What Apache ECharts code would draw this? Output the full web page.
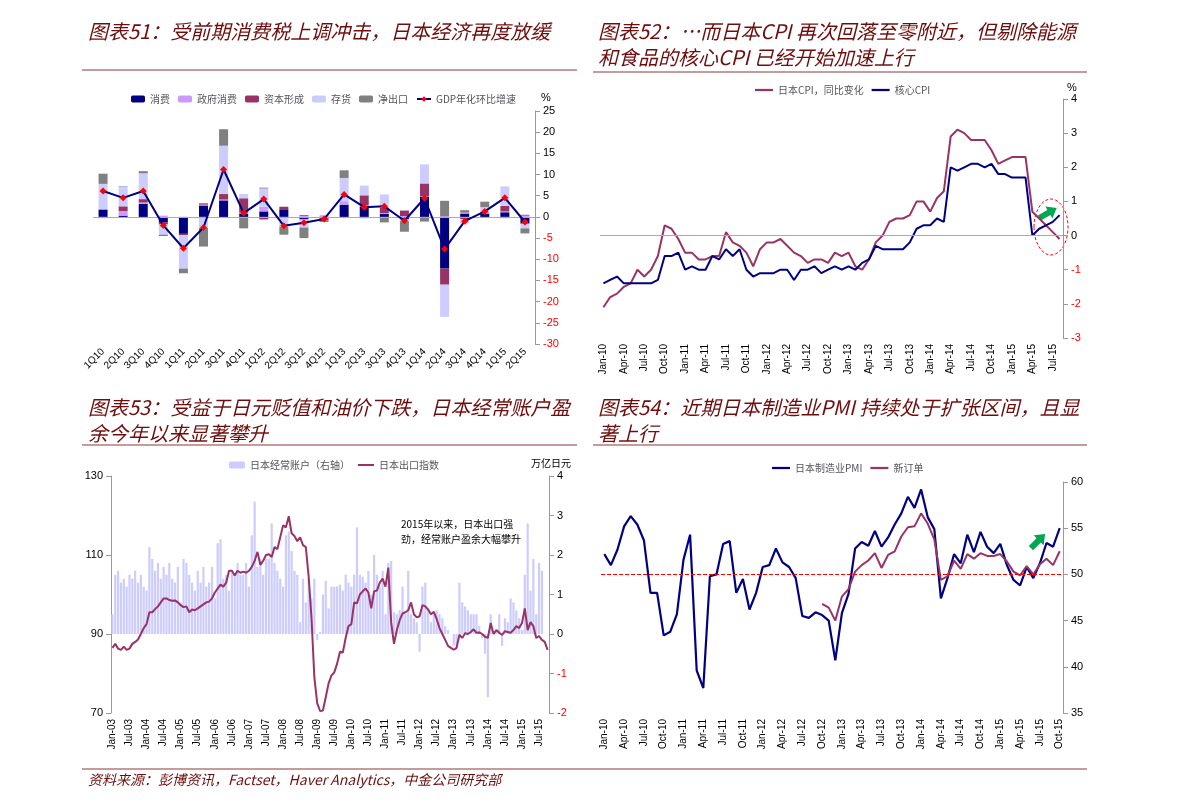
<!DOCTYPE html>
<html lang="zh">
<head>
<meta charset="UTF-8">
<title>日本经济</title>
<script src="https://cdn.jsdelivr.net/npm/echarts@6/dist/echarts.min.js"></script>
<style>body{margin:0;background:#fff}</style>
</head>
<body>
<div id="main" style="width:1191px;height:810px"></div>
<script>
// ---- 图表51 GDP 分项 ----
var quarters = ['1Q10','2Q10','3Q10','4Q10','1Q11','2Q11','3Q11','4Q11','1Q12','2Q12','3Q12','4Q12','1Q13','2Q13','3Q13','4Q13','1Q14','2Q14','3Q14','4Q14','1Q15','2Q15'];
var consume = [1.7,0.3,3.1,-1.2,-4.0,2.7,3.9,0.8,1.3,1.8,-0.6,-0.3,2.9,2.5,0.7,-0.6,4.8,-12.2,0.8,0.8,1.1,-1.6];
var govern  = [-0.3,1.1,0.3,0.3,0,0.2,0.2,0.2,1.1,-0.3,0.2,0.4,0.8,0.2,0.2,0.2,0.1,0.1,0.2,0.2,0.2,0.3];
var capital = [0.1,1.1,0.8,-0.6,-0.3,0.3,1.3,3.4,-0.6,0.6,0.2,-0.5,-0.1,2.4,1.3,1.3,3.0,-3.8,-0.5,0.1,1.3,0.2];
var invent  = [6.0,4.7,6.1,-2.4,-7.9,-2.6,11.4,1.0,4.3,-2.0,-1.9,0.1,5.5,2.3,3.1,-0.4,4.5,-7.6,-1.0,1.2,4.6,-1.1];
var netexp  = [2.4,0.1,0.5,-0.3,-1.1,-4.4,3.9,-2.7,0.2,-1.9,-2.5,-0.4,1.8,-0.3,-1.3,-2.5,-1.1,3.7,0.6,1.3,-0.3,-1.2];
var gdp     = [6.1,4.5,6.1,-2.0,-7.4,-2.5,11.2,0.9,4.2,-2.1,-1.4,-0.5,5.3,2.3,2.5,-0.9,4.4,-7.6,-1.0,1.3,4.5,-1.2];

// ---- 图表52 CPI ----
var cpiMonths = [];
['10','11','12','13','14','15'].forEach(function (y) {
    ['Jan','Feb','Mar','Apr','May','Jun','Jul','Aug','Sep','Oct','Nov','Dec'].forEach(function (m) {
        cpiMonths.push(m + '-' + y);
    });
});
cpiMonths = cpiMonths.slice(0, 68);
var cpiHead = [-2.1,-1.8,-1.7,-1.5,-1.4,-1.0,-1.2,-1.0,-0.6,0.3,0.2,-0.1,
    -0.5,-0.5,-0.7,-0.7,-0.6,-0.6,0.1,-0.2,-0.3,-0.5,-0.9,-0.4,
    -0.2,-0.2,-0.1,-0.3,-0.5,-0.6,-0.8,-0.7,-0.7,-0.8,-0.5,-0.6,
    -0.5,-0.9,-1.0,-0.7,-0.2,0.0,0.4,0.5,0.5,0.6,1.0,1.0,
    0.7,1.1,1.3,2.9,3.1,3.0,2.8,2.8,2.8,2.5,2.1,2.2,
    2.3,2.3,2.3,0.7,0.5,0.3,0.1,-0.1];
var cpiCore = [-1.4,-1.3,-1.2,-1.4,-1.4,-1.4,-1.4,-1.4,-1.3,-0.6,-0.6,-0.5,
    -1.0,-0.9,-1.0,-1.0,-0.6,-0.7,-0.4,-0.6,-0.4,-1.0,-1.2,-1.1,
    -1.1,-1.1,-1.0,-1.0,-1.3,-1.0,-1.0,-0.9,-1.1,-1.0,-0.9,-1.0,
    -0.9,-1.0,-0.8,-0.7,-0.3,-0.4,-0.4,-0.4,-0.4,-0.2,0.2,0.3,
    0.3,0.5,0.4,2.0,1.9,2.0,2.1,2.1,2.0,2.1,1.8,1.8,
    1.7,1.7,1.7,0.0,0.2,0.3,0.4,0.6];

// ---- 图表53 经常账户与出口 ----
var caMonths = [];
['03','04','05','06','07','08','09','10','11','12','13','14','15'].forEach(function (y) {
    ['Jan','Feb','Mar','Apr','May','Jun','Jul','Aug','Sep','Oct','Nov','Dec'].forEach(function (m) {
        caMonths.push(m + '-' + y);
    });
});
caMonths = caMonths.slice(0, 154);
var currentAcct = [0.5,1.5,1.6,1.3,1.4,1.2,1.5,1.4,1.6,1.3,1.5,1.2,
    1.1,2.2,1.9,1.6,1.8,1.4,1.7,1.5,1.8,1.4,1.3,1.7,
    0.8,1.9,1.8,1.5,1.3,1.1,1.6,1.3,1.7,1.2,1.3,1.7,
    0.9,2.3,2.4,1.4,1.5,1.1,1.6,1.5,1.8,1.5,1.5,1.8,
    1.2,2.5,3.35,1.7,1.9,1.5,1.9,1.9,2.8,1.8,1.6,1.4,
    1.2,2.5,2.6,2.1,1.6,1.5,0.3,1.4,0.8,1.4,0.9,1.4,
    -0.15,0.05,1.0,1.35,0.65,1.2,1.2,1.2,1.25,1.1,1.5,1.3,
    1.2,1.5,2.7,1.5,1.45,1.3,1.6,1.0,2.0,1.5,1.2,1.6,
    0.5,1.8,1.85,0.55,0.5,0.6,1.2,0.5,1.6,0.5,0.4,0.3,
    -0.45,1.2,1.3,0.6,0.3,0.5,0.6,0.5,0.4,0.2,0.1,0.0,
    -0.3,-0.3,1.3,0.8,0.7,0.6,0.5,0.5,0.5,0.2,-0.1,-0.5,
    -1.6,0.5,0.0,0.1,0.5,-0.3,0.4,0.3,0.9,0.8,0.6,0.4,
    0.1,1.5,2.8,1.1,1.9,0.5,1.8,1.6,null,null];
var exportIdx = [86.5,87.5,86.3,86.0,86.8,86.0,86.3,87.5,88.0,88.6,90.0,91.5,
    92.5,95.5,95.5,96.3,97.0,98.0,99.0,99.0,98.6,98.4,98.5,98.0,
    97.3,96.8,97.0,95.5,96.2,96.0,96.5,97.0,97.5,98.0,98.2,99.0,
    100.5,101.5,102.5,102.0,103.0,106.0,106.0,104.8,106.0,105.5,105.8,105.5,
    106.0,107.0,108.5,110.8,107.5,108.5,110.0,110.2,109.5,112.0,111.5,114.5,
    117.5,117.0,119.8,115.5,114.8,113.5,114.5,112.5,112.0,104.5,94.0,79.0,
    72.5,70.5,70.6,74.0,77.5,79.5,80.3,82.5,85.5,85.3,89.0,92.0,
    92.5,98.0,97.8,100.0,100.8,101.5,100.5,96.5,100.8,101.0,103.0,104.0,
    102.0,106.8,93.0,87.5,91.0,93.5,95.2,95.5,96.0,98.0,95.0,94.2,
    94.5,97.3,97.0,96.2,95.0,95.6,93.8,91.5,90.0,88.5,87.0,86.5,
    86.0,86.5,89.8,89.0,90.2,90.0,90.5,91.2,90.3,90.4,90.0,89.3,
    89.0,92.8,90.0,91.0,90.3,89.8,90.7,90.5,90.3,91.0,92.0,91.5,
    92.8,96.5,91.0,93.0,92.0,89.0,89.5,88.5,88.0,86.0];

// ---- 图表54 PMI ----
var pmiMonths = [];
['10','11','12','13','14','15'].forEach(function (y) {
    ['Jan','Feb','Mar','Apr','May','Jun','Jul','Aug','Sep','Oct','Nov','Dec'].forEach(function (m) {
        pmiMonths.push(m + '-' + y);
    });
});
pmiMonths = pmiMonths.slice(0, 70);
var pmi = [52.2,51.0,52.7,55.2,56.3,55.4,53.7,48.0,48.0,43.4,43.8,45.7,
    51.6,54.3,39.6,37.7,49.8,50.0,53.3,53.6,48.0,49.5,46.2,48.0,
    50.8,51.0,52.8,51.3,50.8,49.6,45.5,45.3,45.9,45.6,45.0,40.7,
    45.8,47.9,52.8,53.5,53.1,54.7,53.0,54.0,55.4,56.6,58.4,57.2,
    59.2,56.2,54.9,47.4,49.6,52.2,51.2,54.3,52.4,54.6,53.0,52.3,
    53.3,51.0,49.4,48.8,50.8,49.6,51.2,53.4,53.0,55.0];
var newOrder = [null,null,null,null,null,null,null,null,null,null,null,null,
    null,null,null,null,null,null,null,null,null,null,null,null,
    null,null,null,null,null,null,null,null,null,46.8,46.4,45.0,
    47.6,48.4,50.3,51.0,51.5,52.3,50.7,52.1,52.5,54.1,55.1,55.2,
    56.6,55.5,53.8,49.4,49.8,51.5,50.6,52.2,51.7,52.3,52.0,52.0,
    52.2,51.4,50.3,49.9,50.9,50.0,51.1,51.7,51.0,52.5];

var titleColor = '#6e0d0d';
var font = '"Noto Sans CJK SC", sans-serif';
var lineIcon = 'path://M0,0H24V3H0Z';
function negRed(v) { return Number(v) < 0 ? '#ff0000' : '#000'; }
function rightAxis(idx, min, max, itv, colorFn) {
    return {
        gridIndex: idx, position: 'right', min: min, max: max, interval: itv,
        axisLine: {show: true, lineStyle: {color: '#999'}},
        axisTick: {show: true, lineStyle: {color: '#999'}},
        splitLine: {show: false},
        axisLabel: {fontSize: 11, color: colorFn || '#000', fontFamily: 'Arial'}
    };
}
function catAxis(idx, data, itv, rot, gap) {
    return {
        type: 'category', gridIndex: idx, data: data, boundaryGap: gap,
        axisLine: {show: false}, axisTick: {show: false},
        axisLabel: {interval: itv, rotate: rot, fontSize: 10, color: '#000', fontFamily: 'Arial', margin: 6}
    };
}
function zeroLine() {
    return {silent: true, symbol: 'none', label: {show: false},
        lineStyle: {color: '#aaa', type: 'solid', width: 1}, data: [{yAxis: 0}]};
}

var titles = [
    ['图表51：受前期消费税上调冲击，日本经济再度放缓', 88, 21],
    ['图表52：…而日本CPI 再次回落至零附近，但剔除能源', 598, 21],
    ['和食品的核心CPI 已经开始加速上行', 598, 47],
    ['图表53：受益于日元贬值和油价下跌，日本经常账户盈', 88, 397],
    ['余今年以来显著攀升', 88, 423],
    ['图表54：近期日本制造业PMI 持续处于扩张区间，且显', 598, 397],
    ['著上行', 598, 423]
];
var graphics = titles.map(function (t) {
    return {type: 'text', left: t[1], top: t[2], style: {text: t[0], fill: titleColor,
        font: 'italic 20px ' + font}};
});
[[82, 70, 577], [593, 72, 1087], [82, 445, 577], [593, 445, 1087], [82, 769, 1087]].forEach(function (l) {
    graphics.push({type: 'line', shape: {x1: l[0], y1: l[1], x2: l[2], y2: l[1]},
        style: {stroke: '#8b3a3a', lineWidth: 1.2}});
});
graphics.push({type: 'text', left: 88, top: 773, style: {text: '资料来源：彭博资讯，Factset，Haver Analytics，中金公司研究部',
    fill: titleColor, font: 'italic 14px ' + font}});
graphics.push({type: 'text', left: 541, top: 92, style: {text: '%', fill: '#000', font: '11px Arial'}});
graphics.push({type: 'text', left: 1067, top: 82, style: {text: '%', fill: '#000', font: '11px Arial'}});
graphics.push({type: 'text', left: 531, top: 458, style: {text: '万亿日元', fill: '#000', font: '10px ' + font}});
graphics.push({type: 'text', left: 401, top: 517, style: {text: '2015年以来，日本出口强\n劲，经常账户盈余大幅攀升',
    fill: '#000', font: '10px ' + font, lineHeight: 15}});
graphics.push({type: 'ellipse', shape: {cx: 1051, cy: 227, rx: 17, ry: 28},
    style: {fill: 'none', stroke: '#ff0000', lineDash: [3, 2], lineWidth: 1}});
function arrow(x, y, rot) {
    return {type: 'polygon', x: x, y: y, rotation: rot,
        shape: {points: [[-10, -3], [1, -3], [1, -7], [10, 0], [1, 7], [1, 3], [-10, 3]]},
        style: {fill: '#00a651'}};
}
graphics.push(arrow(1048, 213, Math.PI / 6));
graphics.push(arrow(1038, 541, Math.PI / 4));

var barStack = function (name, data, color) {
    return {name: name, type: 'bar', stack: 'gdp', xAxisIndex: 0, yAxisIndex: 0,
        data: data, barWidth: 9, itemStyle: {color: color}};
};

var option = {
    animation: false,
    textStyle: {fontFamily: font},
    graphic: graphics,
    grid: [
        {left: 93, right: 656, top: 111, bottom: 466},
        {left: 600, right: 128, top: 99, bottom: 472},
        {left: 111, right: 642, top: 476, bottom: 97},
        {left: 601, right: 128, top: 482, bottom: 97}
    ],
    legend: [
        {top: 89, left: 126, itemWidth: 14, itemHeight: 7, itemGap: 8, textStyle: {fontSize: 10},
            data: ['消费', '政府消费', '资本形成', '存货', '净出口', 'GDP年化环比增速']},
        {top: 80, left: 750, itemWidth: 18, itemHeight: 8, textStyle: {fontSize: 10},
            data: [{name: '日本CPI，同比变化', icon: lineIcon}, {name: '核心CPI', icon: lineIcon}]},
        {top: 455, left: 224, itemWidth: 16, itemHeight: 7, textStyle: {fontSize: 10},
            data: ['日本经常账户（右轴）', {name: '日本出口指数', icon: lineIcon}]},
        {top: 458, left: 767, itemWidth: 18, itemHeight: 8, textStyle: {fontSize: 10},
            data: [{name: '日本制造业PMI', icon: lineIcon}, {name: '新订单', icon: lineIcon}]}
    ],
    xAxis: [
        catAxis(0, quarters, 0, 45, true),
        catAxis(1, cpiMonths, 2, 90, true),
        catAxis(2, caMonths, 5, 90, true),
        catAxis(3, pmiMonths, 2, 90, true)
    ],
    yAxis: [
        rightAxis(0, -30, 25, 5, negRed),
        rightAxis(1, -3, 4, 1, negRed),
        {gridIndex: 2, position: 'left', min: 70, max: 130, interval: 20,
            axisLine: {show: true, lineStyle: {color: '#999'}}, axisTick: {show: true},
            splitLine: {show: false}, axisLabel: {fontSize: 11, color: '#000', fontFamily: 'Arial'}},
        rightAxis(2, -2, 4, 1, negRed),
        rightAxis(3, 35, 60, 5)
    ],
    series: [
        barStack('消费', consume, '#000080'),
        barStack('政府消费', govern, '#cc99ff'),
        barStack('资本形成', capital, '#993366'),
        barStack('存货', invent, '#ccccff'),
        barStack('净出口', netexp, '#808080'),
        {name: 'GDP年化环比增速', type: 'line', xAxisIndex: 0, yAxisIndex: 0, data: gdp,
            symbol: 'diamond', symbolSize: 7, itemStyle: {color: '#ff0000'},
            lineStyle: {color: '#000080', width: 2}, markLine: zeroLine(), z: 5},
        {name: '日本CPI，同比变化', type: 'line', xAxisIndex: 1, yAxisIndex: 1, data: cpiHead,
            symbol: 'none', itemStyle: {color: '#993366'}, lineStyle: {width: 2}, markLine: zeroLine()},
        {name: '核心CPI', type: 'line', xAxisIndex: 1, yAxisIndex: 1, data: cpiCore,
            symbol: 'none', itemStyle: {color: '#000080'}, lineStyle: {width: 2}},
        {name: '日本经常账户（右轴）', type: 'bar', xAxisIndex: 2, yAxisIndex: 3, data: currentAcct,
            barWidth: 2.2, itemStyle: {color: '#ccccff'}},
        {name: '日本出口指数', type: 'line', xAxisIndex: 2, yAxisIndex: 2, data: exportIdx,
            symbol: 'none', itemStyle: {color: '#993366'}, lineStyle: {width: 2}},
        {name: '日本制造业PMI', type: 'line', xAxisIndex: 3, yAxisIndex: 4, data: pmi,
            symbol: 'none', itemStyle: {color: '#000080'}, lineStyle: {width: 2.2},
            markLine: {silent: true, symbol: 'none', label: {show: false},
                lineStyle: {color: '#ff0000', type: 'dashed', width: 1}, data: [{yAxis: 50}]}},
        {name: '新订单', type: 'line', xAxisIndex: 3, yAxisIndex: 4, data: newOrder,
            symbol: 'none', itemStyle: {color: '#993366'}, lineStyle: {width: 2}}
    ]
};
var chart = echarts.init(document.getElementById('main'));
chart.setOption(option);
</script>
</body>
</html>
